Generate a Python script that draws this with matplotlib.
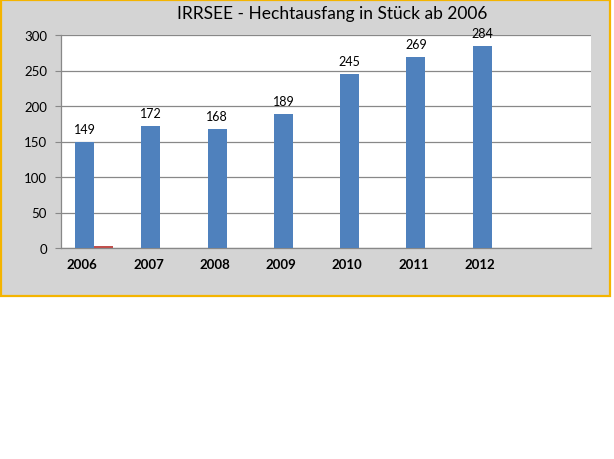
import numpy as np
import matplotlib
matplotlib.use("Agg")
import matplotlib.pyplot as plt
from matplotlib.patches import Rectangle

# Data
years = ["2006", "2007", "2008", "2009", "2010", "2011", "2012", ""]
fish = [149, 172, 168, 189, 245, 269, 284, np.nan]
other = [3, np.nan, np.nan, np.nan, np.nan, np.nan, np.nan, np.nan]
yticks = [0, 50, 100, 150, 200, 250, 300]

plt.rcParams['font.family'] = ['Lato', 'DejaVu Sans']

fig = plt.figure(figsize=(6.14, 4.6), dpi=100)
fig.patch.set_facecolor('white')

# chart box with orange border, behind everything
box = Rectangle((1 / 614, 1 - 297 / 460), 609 / 614, 296 / 460,
                transform=fig.transFigure, facecolor='#d4d4d4',
                edgecolor='#f4b400', linewidth=1.6, zorder=-10)
fig.patches.append(box)

ax = fig.add_axes([61 / 614, 1 - 249 / 460, 530 / 614, 213 / 460])
ax.set_facecolor('white')

x = np.arange(len(years))
w = 0.287
ax.bar(x - w / 2, fish, width=w, color='#4f81bd', zorder=3)
ax.bar(x + w / 2, other, width=w, color='#c0504d', zorder=4)

for xi, v in zip(x, fish):
    if not np.isnan(v):
        ax.annotate(f"{int(v)}", (xi - w / 2, v), xytext=(0, 5),
                    textcoords='offset points', ha='center', va='bottom',
                    fontsize=9, color='black')

ax.set_xlim(-0.5, len(years) - 0.5)
ax.set_ylim(0, 300)
ax.set_yticks(yticks)
ax.set_yticklabels([str(t) for t in yticks], fontsize=9.5)
ax.yaxis.grid(True, color='#888888', linewidth=0.9, zorder=1)
ax.set_axisbelow(True)

ax.set_xticks(x - 0.18)
ax.set_xticklabels(years, fontsize=9.5, fontweight='bold')
ax.tick_params(axis='x', length=0, pad=7)
ax.tick_params(axis='y', length=4, color='#888888', pad=6)

for side in ['top', 'right']:
    ax.spines[side].set_visible(False)
for side in ['left', 'bottom']:
    ax.spines[side].set_color('#888888')
    ax.spines[side].set_linewidth(0.9)
    ax.spines[side].set_zorder(2)

fig.text(332 / 614, 1 - 14 / 460, "IRRSEE - Hechtausfang in Stück ab 2006",
         ha='center', va='center', fontsize=12.5, color='black')

fig.savefig("out.png", dpi=100)
